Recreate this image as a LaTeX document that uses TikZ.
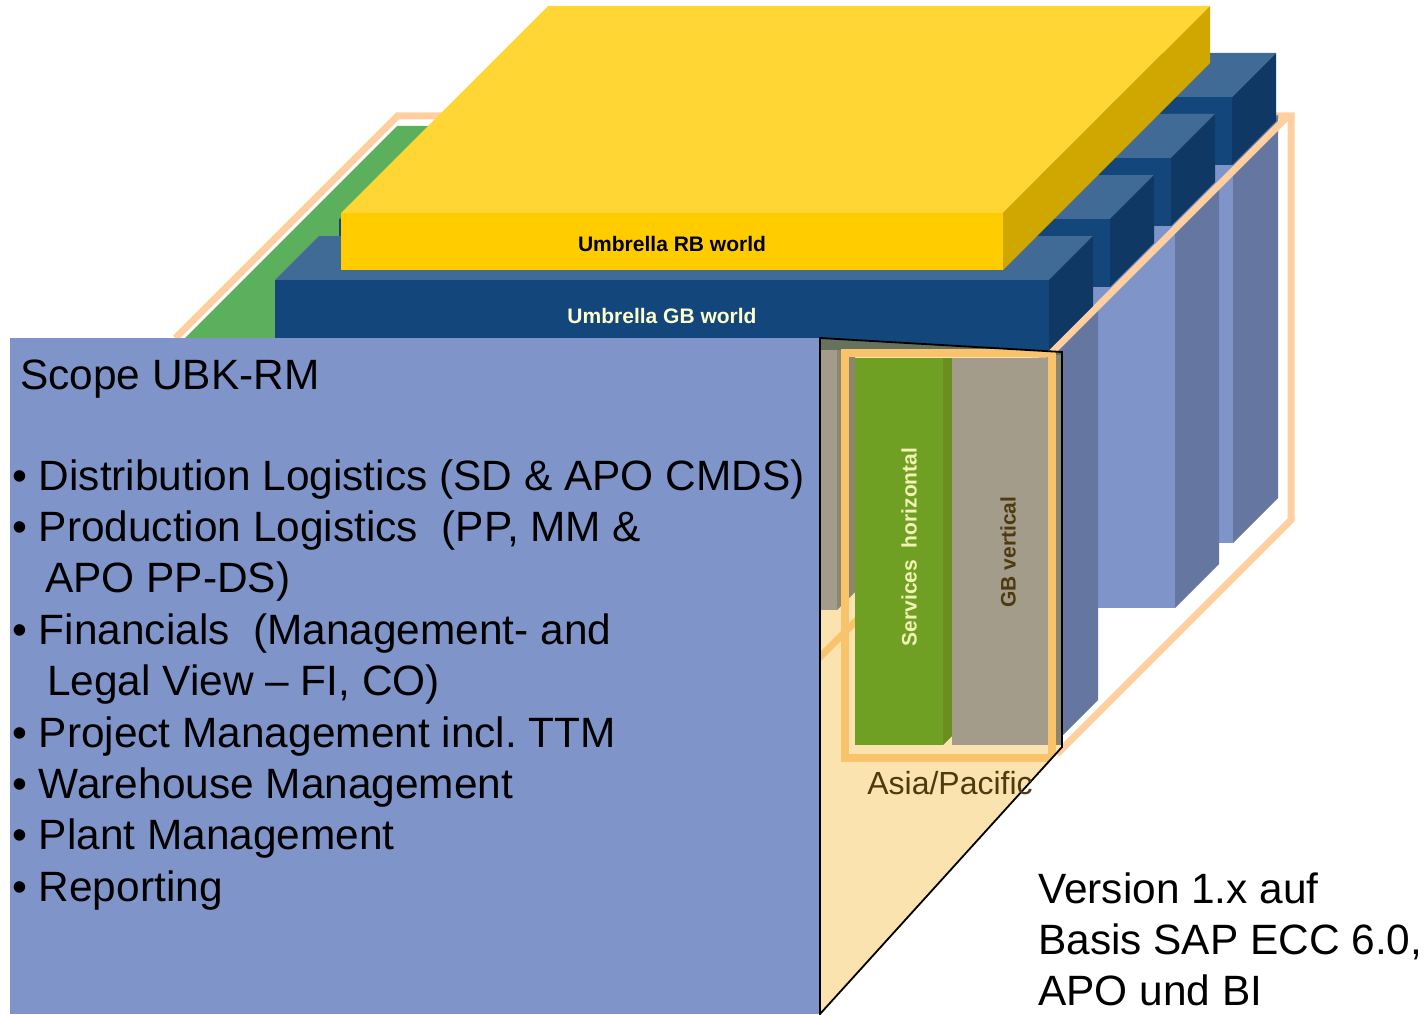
\documentclass[tikz,border=0pt]{standalone}
\usepackage{fontspec}
\setmainfont{Liberation Sans}
\frenchspacing

\definecolor{lavfront}{HTML}{7F95CA}
\definecolor{lavside}{HTML}{6577A0}
\definecolor{gbfront}{HTML}{13477C}
\definecolor{gbtop}{HTML}{406B96}
\definecolor{gbside}{HTML}{0F3864}
\definecolor{rbfront}{HTML}{FFCC00}
\definecolor{rbtop}{HTML}{FFD633}
\definecolor{rbside}{HTML}{CFA700}
\definecolor{layergreen}{HTML}{5CAF5C}
\definecolor{framepeach}{HTML}{FFCF9F}
\definecolor{sliceorange}{HTML}{F9C36B}
\definecolor{slicewheat}{HTML}{FAE3AF}
\definecolor{slicetop}{HTML}{66725E}
\definecolor{colgrey}{HTML}{A39C8A}
\definecolor{colgreydark}{HTML}{8C866F}
\definecolor{colgreen}{HTML}{6FA023}
\definecolor{colgreendark}{HTML}{6A8F20}
\definecolor{labelbrown}{HTML}{4D3A0F}
\definecolor{labelpale}{HTML}{F2F2B5}
\definecolor{gblabel}{HTML}{FFFFCC}

% left, top, right, bottom, depth, front, top, side
\newcommand{\cuboid}[8]{%
  \fill[#7] (#1,#2) -- ++(#5,-#5) -- ++(#3-#1,0) -- (#3,#2) -- cycle;
  \fill[#8] (#3,#2) -- ++(#5,-#5) -- ++(0,#4-#2) -- (#3,#4) -- cycle;
  \fill[#6] (#1,#2) rectangle (#3,#4);
}

\begin{document}
\begin{tikzpicture}[x=1pt,y=-1pt,
  scopeline/.style={anchor=base west,inner sep=0pt,font=\fontsize{42.4}{50}\selectfont},
  worldlabel/.style={anchor=base,inner sep=0pt,font=\bfseries\fontsize{21}{25}\selectfont},
  columnlabel/.style={rotate=90,inner sep=0pt,font=\bfseries\fontsize{21}{25}\selectfont},
  frameline/.style={draw=framepeach,line width=7pt,line join=miter}]
  \useasboundingbox (0,0) rectangle (1426,1014);

  % frame and green layer behind
  \draw[frameline] (175.5,338) -- (397.5,116) -- (1291,116) -- (1291,520) -- (1057,754);
  \fill[layergreen] (183,340) -- (397,126) -- (700,126) -- (700,340) -- cycle;

  % columns
  \cuboid{1180}{160}{1233}{543}{45}{lavfront}{lavfront}{lavside}
  \cuboid{1060}{230}{1175}{608}{44}{lavfront}{lavfront}{lavside}
  \cuboid{830}{345}{1054}{744}{44}{lavfront}{lavfront}{lavside}
  \draw[frameline] (1052,352) -- (1286,118);

  % umbrella blocks, back to front
  \foreach \lft/\tp/\rt in {464/97/1232, 402/158/1171, 339/219/1110}
    {\cuboid{\lft}{\tp}{\rt}{\tp+68}{44}{gbfront}{gbtop}{gbside}}
  \cuboid{275}{280}{1049}{350}{44}{gbfront}{gbtop}{gbside}
  \cuboid{341}{213}{1003}{270}{207}{rbfront}{rbtop}{rbside}

  % scope box
  \fill[lavfront] (10,338) rectangle (820,1014);

  % cut through the cube
  \begin{scope}
    \clip (820,338) -- (1062,352) -- (1062,747) -- (820,1014) -- cycle;
    \fill[slicewheat] (820,338) rectangle (1062,1014);
    \draw[sliceorange,line width=7pt] (812,665) -- (862,615);
    \fill[slicetop] (820,338) -- (1062,352) -- (1062,358) -- (820,350) -- cycle;
    \fill[colgrey] (820,350) rectangle (837,610);
    \fill[colgreydark] (837,350) -- (855,351) -- (855,592) -- (837,610) -- cycle;
    \fill[colgreen] (855,358) rectangle (943,745);
    \fill[colgreendark] (943,358) -- (952,358) -- (952,736) -- (943,745) -- cycle;
    \fill[colgrey] (952,358) rectangle (1048,745);
    \fill[colgreydark] (1048,355) rectangle (1062,745);
    \draw[sliceorange,line width=8pt] (845,353) rectangle (1052,758);
  \end{scope}
  \draw[line width=1.8pt,line join=miter] (820,338) -- (1062,352) -- (1062,747) -- (820,1014) -- cycle;

  % labels
  \node[worldlabel] (rbworld) at (672,251) {Umbrella RB world};
  \node[worldlabel,text=gblabel] (gbworld) at (662,323) {Umbrella GB world};
  \node[columnlabel,text=labelpale] (services) at (909,547) {Services\ \ horizontal};
  \node[columnlabel,text=labelbrown] (gbvertical) at (1008,552) {GB vertical};
  \node[anchor=base,inner sep=0pt,text=labelbrown,font=\fontsize{32}{38}\selectfont] (asia) at (950,794) {Asia/Pacific};

  \node[scopeline] (scope) at (20,389) {Scope UBK-RM};
  \foreach \txt [count=\i from 0] in {• Distribution Logistics (SD \& APO CMDS),
      {• Production Logistics \ (PP, MM \&}, \hspace*{33pt}APO PP-DS),
      {• Financials \ (Management- and}, {\hspace*{35pt}Legal View – FI, CO)},
      • Project Management incl. TTM, • Warehouse Management,
      • Plant Management, • Reporting}
    \node[scopeline] (item\i) at (12,490+51.4*\i) {\txt};

  \foreach \txt [count=\i from 0] in {Version 1.x auf, {Basis SAP ECC 6.0,}, APO und BI}
    \node[scopeline] (version\i) at (1038,903+51*\i) {\txt};
\end{tikzpicture}
\end{document}
